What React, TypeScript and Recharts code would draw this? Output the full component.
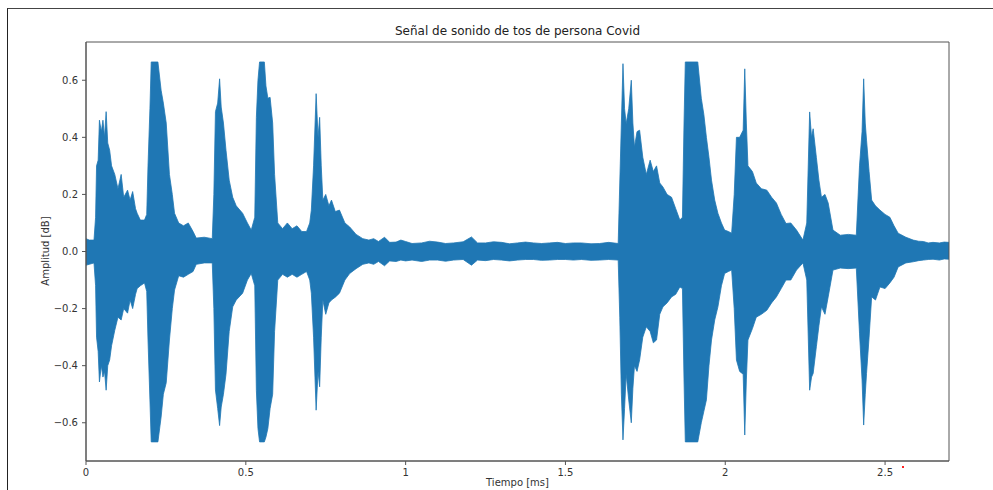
import React from "react";
import { AreaChart, Area, XAxis, YAxis, ReferenceArea } from "recharts";

// envelope of the waveform (time in ms)
const timeMs = [
  0.0, 0.01, 0.025, 0.03, 0.033, 0.038, 0.042, 0.048, 0.053, 0.058, 0.063, 0.068, 0.074, 0.08, 0.09,
  0.1, 0.11, 0.118, 0.13, 0.138, 0.146, 0.155, 0.16, 0.17, 0.183, 0.19, 0.194, 0.2, 0.204, 0.225,
  0.235, 0.242, 0.251, 0.261, 0.27, 0.277, 0.29, 0.305, 0.32, 0.335, 0.345, 0.37, 0.395, 0.4, 0.405,
  0.412, 0.418, 0.423, 0.43, 0.438, 0.448, 0.459, 0.47, 0.49, 0.505, 0.517, 0.528, 0.533, 0.538,
  0.543, 0.558, 0.563, 0.569, 0.576, 0.584, 0.59, 0.6, 0.615, 0.63, 0.645, 0.66, 0.675, 0.69, 0.7,
  0.705, 0.712, 0.72, 0.726, 0.731, 0.736, 0.741, 0.75, 0.76, 0.768, 0.78, 0.793, 0.81, 0.825, 0.845,
  0.866, 0.885, 0.9, 0.915, 0.934, 0.95, 0.97, 0.985, 1.0, 1.02, 1.05, 1.075, 1.1, 1.125, 1.15, 1.18,
  1.206, 1.225, 1.25, 1.275, 1.3, 1.325, 1.35, 1.375, 1.4, 1.425, 1.45, 1.475, 1.5, 1.525, 1.55,
  1.58, 1.607, 1.635, 1.665, 1.67, 1.675, 1.68, 1.685, 1.69, 1.698, 1.706, 1.711, 1.716, 1.724, 1.732,
  1.742, 1.753, 1.765, 1.775, 1.785, 1.795, 1.805, 1.818, 1.832, 1.845, 1.858, 1.866, 1.871, 1.875,
  1.914, 1.925, 1.933, 1.941, 1.949, 1.957, 1.967, 1.977, 1.988, 1.998, 2.01, 2.02, 2.028, 2.035,
  2.045, 2.056, 2.061, 2.066, 2.071, 2.085, 2.097, 2.113, 2.13, 2.145, 2.16, 2.175, 2.19, 2.205,
  2.223, 2.243, 2.255, 2.264, 2.27, 2.275, 2.285, 2.293, 2.301, 2.312, 2.322, 2.337, 2.36, 2.385,
  2.41, 2.42, 2.428, 2.433, 2.438, 2.442, 2.45, 2.458, 2.47, 2.484, 2.5, 2.515, 2.528, 2.541, 2.565,
  2.588, 2.605, 2.62, 2.635, 2.65, 2.67, 2.685, 2.7,
];

const upperAmp = [
  0.045, 0.04, 0.04, 0.12, 0.3, 0.32, 0.46, 0.42, 0.46, 0.4, 0.49, 0.38, 0.355, 0.3, 0.27,
  0.22, 0.27, 0.19, 0.215, 0.18, 0.21, 0.15, 0.134, 0.11, 0.11, 0.13, 0.3, 0.5, 0.664, 0.664,
  0.565, 0.52, 0.45, 0.27, 0.2, 0.134, 0.1, 0.09, 0.1, 0.07, 0.047, 0.05, 0.045, 0.2, 0.49,
  0.52, 0.605, 0.506, 0.45, 0.355, 0.25, 0.19, 0.16, 0.134, 0.1, 0.075, 0.12, 0.47, 0.6,
  0.664, 0.664, 0.58, 0.537, 0.54, 0.45, 0.27, 0.1, 0.08, 0.1, 0.08, 0.09, 0.07, 0.07, 0.1,
  0.145, 0.3, 0.553, 0.4, 0.47, 0.3, 0.18, 0.2, 0.16, 0.18, 0.14, 0.145, 0.1, 0.086, 0.06,
  0.045, 0.04, 0.045, 0.035, 0.05, 0.032, 0.033, 0.04, 0.035, 0.028, 0.03, 0.036, 0.033, 0.028, 0.03, 0.034,
  0.051, 0.03, 0.03, 0.034, 0.032, 0.027, 0.03, 0.033, 0.03, 0.028, 0.03, 0.032, 0.028, 0.03, 0.03,
  0.027, 0.028, 0.032, 0.028, 0.24, 0.45, 0.658, 0.5, 0.448, 0.5, 0.6, 0.45, 0.366, 0.42, 0.425,
  0.33, 0.27, 0.32, 0.28, 0.3, 0.24, 0.226, 0.2, 0.19, 0.15, 0.11, 0.12, 0.45, 0.664,
  0.664, 0.537, 0.48, 0.4, 0.33, 0.25, 0.18, 0.134, 0.1, 0.075, 0.07, 0.064, 0.2, 0.4,
  0.4, 0.425, 0.64, 0.45, 0.3, 0.28, 0.24, 0.22, 0.215, 0.19, 0.17, 0.13, 0.098, 0.1,
  0.075, 0.04, 0.1, 0.489, 0.4, 0.43, 0.33, 0.25, 0.19, 0.2, 0.17, 0.075, 0.057, 0.06,
  0.057, 0.3, 0.42, 0.605, 0.45, 0.39, 0.28, 0.18, 0.16, 0.145, 0.13, 0.12, 0.09, 0.064, 0.05,
  0.04, 0.036, 0.035, 0.03, 0.032, 0.03, 0.033, 0.032,
];

const lowerAmp = [
  -0.048, -0.045, -0.04, -0.12, -0.3, -0.35, -0.457, -0.4, -0.44, -0.42, -0.486, -0.4, -0.38, -0.33, -0.276,
  -0.23, -0.24, -0.2, -0.216, -0.17, -0.2, -0.15, -0.13, -0.12, -0.11, -0.14, -0.31, -0.52, -0.667, -0.667,
  -0.58, -0.5, -0.46, -0.31, -0.2, -0.135, -0.085, -0.09, -0.08, -0.07, -0.045, -0.04, -0.04, -0.2, -0.485,
  -0.55, -0.61, -0.545, -0.5, -0.43, -0.28, -0.194, -0.17, -0.146, -0.1, -0.077, -0.12, -0.486, -0.62,
  -0.667, -0.667, -0.65, -0.62, -0.55, -0.5, -0.28, -0.1, -0.08, -0.09, -0.08, -0.09, -0.08, -0.07, -0.1,
  -0.146, -0.3, -0.556, -0.42, -0.474, -0.3, -0.17, -0.22, -0.18, -0.17, -0.16, -0.146, -0.1, -0.077, -0.06,
  -0.045, -0.04, -0.045, -0.035, -0.05, -0.033, -0.035, -0.03, -0.033, -0.03, -0.035, -0.03, -0.03, -0.034, -0.03, -0.028,
  -0.048, -0.03, -0.032, -0.028, -0.03, -0.033, -0.03, -0.028, -0.028, -0.031, -0.03, -0.028, -0.028, -0.03, -0.028,
  -0.031, -0.03, -0.028, -0.03, -0.23, -0.5, -0.66, -0.55, -0.43, -0.52, -0.6, -0.48, -0.4, -0.42, -0.38,
  -0.3, -0.264, -0.28, -0.32, -0.31, -0.22, -0.194, -0.18, -0.159, -0.15, -0.124, -0.13, -0.45, -0.667,
  -0.667, -0.6, -0.56, -0.52, -0.4, -0.31, -0.24, -0.194, -0.12, -0.077, -0.07, -0.065, -0.2, -0.38,
  -0.42, -0.43, -0.643, -0.45, -0.31, -0.27, -0.23, -0.22, -0.206, -0.18, -0.159, -0.13, -0.1, -0.1,
  -0.065, -0.04, -0.1, -0.486, -0.44, -0.427, -0.334, -0.26, -0.194, -0.22, -0.159, -0.065, -0.058, -0.06,
  -0.058, -0.286, -0.45, -0.608, -0.5, -0.427, -0.3, -0.159, -0.17, -0.124, -0.13, -0.11, -0.09, -0.054, -0.04,
  -0.036, -0.032, -0.03, -0.028, -0.027, -0.03, -0.026, -0.027,
];

const xTicks = [0, 0.5, 1, 1.5, 2, 2.5];
const xTickLabels = ["0", "0.5", "1", "1.5", "2", "2.5"];
const yTicks = [-0.6, -0.4, -0.2, 0, 0.2, 0.4, 0.6];
const yTickLabels = ["\u22120.6", "\u22120.4", "\u22120.2", "0.0", "0.2", "0.4", "0.6"];

const data = timeMs.map((t, i) => ({ t, amp: [lowerAmp[i], upperAmp[i]] }));

const font = "'DejaVu Sans', sans-serif";
const blue = "#1f77b4";
const spine = "#555";
const xDomain: [number, number] = [0, 2.7];
const yDomain: [number, number] = [-0.734, 0.734];

export default function App() {
  return (
    <div
      style={{
        position: "absolute",
        left: 0,
        top: 0,
        width: 993,
        height: 490,
        overflow: "hidden",
        background: "#fff",
        fontFamily: font,
      }}
    >
      <div
        style={{
          position: "absolute",
          left: 7,
          top: 8,
          width: 1000,
          height: 500,
          borderLeft: "1.5px solid #222",
          borderTop: "1.5px solid #444",
        }}
      />
      <div
        style={{
          position: "absolute",
          top: 24,
          left: 86,
          width: 863,
          textAlign: "center",
          fontSize: 12,
          color: "#222",
        }}
      >
        Señal de sonido de tos de persona Covid
      </div>
      <div
        style={{
          position: "absolute",
          left: 45,
          top: 251,
          transform: "translate(-50%, -50%) rotate(-90deg)",
          fontSize: 10,
          color: "#333",
          whiteSpace: "nowrap",
        }}
      >
        Amplitud [dB]
      </div>
      <div
        style={{
          position: "absolute",
          top: 477,
          left: 86,
          width: 863,
          textAlign: "center",
          fontSize: 10,
          lineHeight: "12px",
          color: "#333",
        }}
      >
        Tiempo [ms]
      </div>
      <div
        style={{
          position: "absolute",
          left: 902,
          top: 466,
          width: 2,
          height: 2,
          background: "#ff2020",
        }}
      />
      <div style={{ position: "absolute", left: 0, top: 0 }}>
        <AreaChart
          width={993}
          height={490}
          data={data}
          margin={{ top: 42, right: 44, left: 0, bottom: 0 }}
        >
          <XAxis
            dataKey="t"
            type="number"
            domain={xDomain}
            ticks={xTicks}
            tickFormatter={(v: number) => xTickLabels[xTicks.indexOf(v)] ?? String(v)}
            height={29}
            tickSize={4}
            tickMargin={4}
            stroke={spine}
            tick={{ fill: "#333", fontSize: 10, fontFamily: font }}
            interval={0}
          />
          <YAxis
            type="number"
            domain={yDomain}
            ticks={yTicks}
            tickFormatter={(v: number) => yTickLabels[yTicks.indexOf(v)] ?? String(v)}
            width={86}
            tickSize={4}
            tickMargin={4}
            stroke={spine}
            tick={{ fill: "#333", fontSize: 10, fontFamily: font }}
            interval={0}
            allowDataOverflow
          />
          <Area
            type="linear"
            dataKey="amp"
            stroke={blue}
            strokeWidth={0.8}
            fill={blue}
            fillOpacity={1}
            isAnimationActive={false}
            dot={false}
            activeDot={false}
          />
          <ReferenceArea
            x1={xDomain[0]}
            x2={xDomain[1]}
            y1={yDomain[0]}
            y2={yDomain[1]}
            fill="none"
            fillOpacity={0}
            stroke={spine}
            strokeWidth={1}
            ifOverflow="visible"
          />
        </AreaChart>
      </div>
    </div>
  );
}
